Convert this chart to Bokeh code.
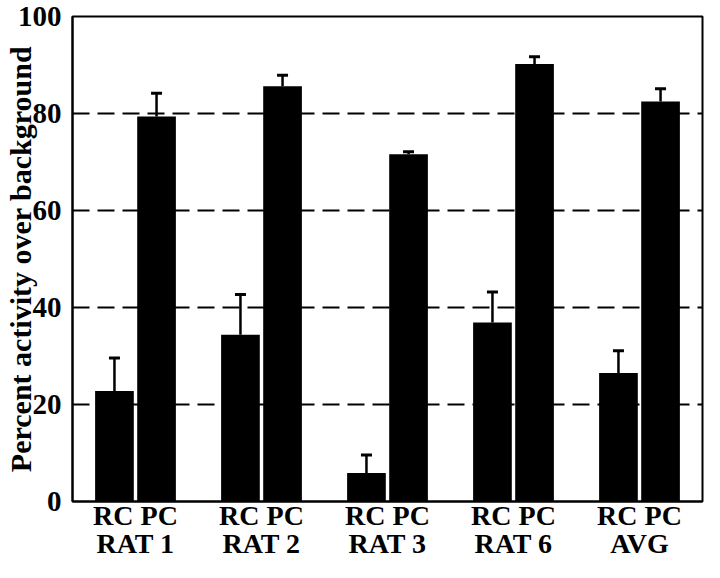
from bokeh.plotting import figure
from bokeh.models import ColumnDataSource, FactorRange, Range1d, FixedTicker
from bokeh.transform import dodge
from bokeh.embed import file_html
from bokeh.resources import INLINE

groups = ["RAT 1", "RAT 2", "RAT 3", "RAT 6", "AVG"]
rc_values = [22.8, 34.4, 5.9, 36.9, 26.5]
rc_errors = [6.8, 8.3, 3.7, 6.3, 4.6]
pc_values = [79.4, 85.6, 71.6, 90.2, 82.5]
pc_errors = [4.8, 2.3, 0.5, 1.5, 2.6]
bar_labels = "RC PC"
y_ticks = [0, 20, 40, 60, 80, 100]
grid_ticks = [20, 40, 60, 80]
y_label = "Percent activity over background"

FONT = "Liberation Serif"

factors = [bar_labels + "\n" + g for g in groups]

src = ColumnDataSource(dict(
    g=factors,
    rc=rc_values,
    rc_up=[v + e for v, e in zip(rc_values, rc_errors)],
    pc=pc_values,
    pc_up=[v + e for v, e in zip(pc_values, pc_errors)],
))

p = figure(x_range=FactorRange(*factors), y_range=Range1d(0, 100),
           width=704, height=562, output_backend="svg", toolbar_location=None,
           min_border_top=16, min_border_right=2, min_border_left=64,
           min_border_bottom=0)

OFF = 0.167
W = 0.307

# grid
p.xgrid.grid_line_color = None
p.ygrid.ticker = FixedTicker(ticks=grid_ticks)
p.ygrid.grid_line_color = "black"
p.ygrid.grid_line_width = 2
p.ygrid.grid_line_dash = "17 8"

for col, up, off in (("rc", "rc_up", -OFF), ("pc", "pc_up", OFF)):
    xs = dodge("g", off, range=p.x_range)
    p.segment(x0=xs, y0=col, x1=xs, y1=up, source=src, line_color="black", line_width=2.5)
    p.rect(x=xs, y=up, width=11, height=3, width_units="screen", height_units="screen",
           source=src, fill_color="black", line_color=None)
    p.vbar(x=xs, top=col, width=W, bottom=0, source=src, fill_color="black", line_color=None)

p.outline_line_color = "black"
p.outline_line_width = 2
p.outline_line_alpha = 1

# y axis
ya = p.yaxis[0]
ya.ticker = FixedTicker(ticks=y_ticks)
ya.axis_line_width = 2
ya.major_tick_line_color = None
ya.minor_tick_line_color = None
ya.major_label_standoff = 5
ya.major_label_text_font = FONT
ya.major_label_text_font_style = "bold"
ya.major_label_text_font_size = "29px"
ya.major_label_text_color = "black"
ya.axis_label = y_label
ya.axis_label_text_font = FONT
ya.axis_label_text_font_style = "bold"
ya.axis_label_text_font_size = "30px"
ya.axis_label_text_color = "black"
ya.axis_label_standoff = -22

# x axis
xa = p.xaxis[0]
xa.axis_line_width = 2
xa.major_tick_line_color = None
xa.minor_tick_line_color = None
xa.major_label_standoff = -8
xa.major_label_orientation = "horizontal"
xa.major_label_text_font = FONT
xa.major_label_text_font_style = "bold"
xa.major_label_text_font_size = "28px"
xa.major_label_text_color = "black"
xa.major_label_text_line_height = 0.92

open("out.html", "w").write(file_html(p, INLINE))
